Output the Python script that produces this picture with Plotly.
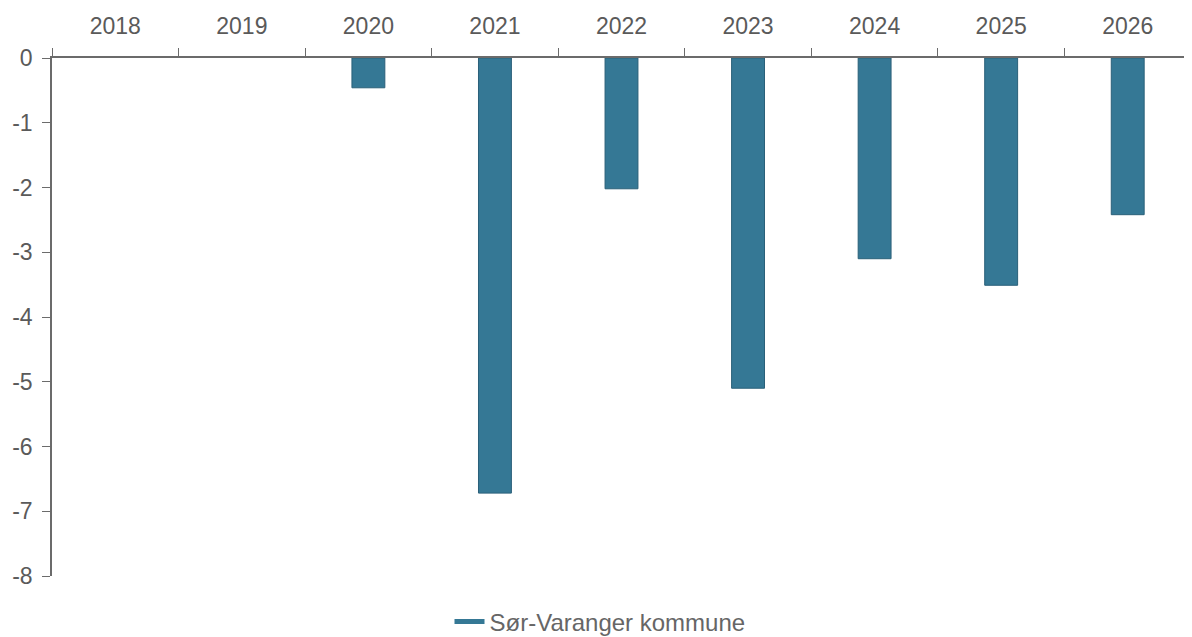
import plotly.graph_objects as go

years = ["2018", "2019", "2020", "2021", "2022", "2023", "2024", "2025", "2026"]
values = [None, None, -0.46, -6.72, -2.02, -5.10, -3.10, -3.51, -2.42]
series_name = "Sør-Varanger kommune"
y_ticks = [0, -1, -2, -3, -4, -5, -6, -7, -8]

_FILL = "#357895"
_EDGE = "#2a6079"
_INK = "#5a5a5a"
_AXIS = "#6b6b6b"

# the page body keeps its default 8px margin, so the figure is 8px smaller
_W, _H = 1184, 629

fig = go.Figure()
fig.add_trace(
    go.Bar(
        x=years,
        y=values,
        width=0.26,
        marker={"color": _FILL, "line": {"color": _EDGE, "width": 1}},
        name=series_name,
        showlegend=False,
    )
)
# legend entry drawn as a thick line, as in the original
fig.add_trace(
    go.Scatter(
        x=[None],
        y=[None],
        mode="lines",
        line={"color": _FILL, "width": 5},
        name=series_name,
    )
)

font = {"family": "Liberation Sans, Arial, sans-serif", "size": 23, "color": _INK}

fig.update_xaxes(
    type="category",
    categoryorder="array",
    categoryarray=years,
    side="top",
    tickson="boundaries",
    ticks="outside",
    ticklen=8,
    tickcolor=_AXIS,
    showline=True,
    linecolor=_AXIS,
    linewidth=1.5,
    showgrid=False,
    zeroline=False,
    tickfont=font,
    ticklabelstandoff=13,
)
fig.update_yaxes(
    range=[-8, 0],
    tickvals=y_ticks,
    ticktext=[str(v) for v in y_ticks],
    ticks="outside",
    ticklen=8,
    tickcolor=_AXIS,
    showline=True,
    linecolor=_AXIS,
    linewidth=1.5,
    showgrid=False,
    zeroline=False,
    tickfont=font,
    ticklabelstandoff=5,
)

fig.update_layout(
    width=_W,
    height=_H,
    margin={"l": 44, "r": 1, "t": 50, "b": 61, "autoexpand": False},
    plot_bgcolor="white",
    paper_bgcolor="white",
    font=font,
    showlegend=True,
    legend={
        "orientation": "h",
        "xref": "container",
        "x": 0.5,
        "xanchor": "center",
        "yref": "container",
        "y": 15 / _H,
        "yanchor": "middle",
        "font": {**font, "size": 24, "color": "#666666"},
        "itemwidth": 30,
    },
)

fig.write_html("out.html")
